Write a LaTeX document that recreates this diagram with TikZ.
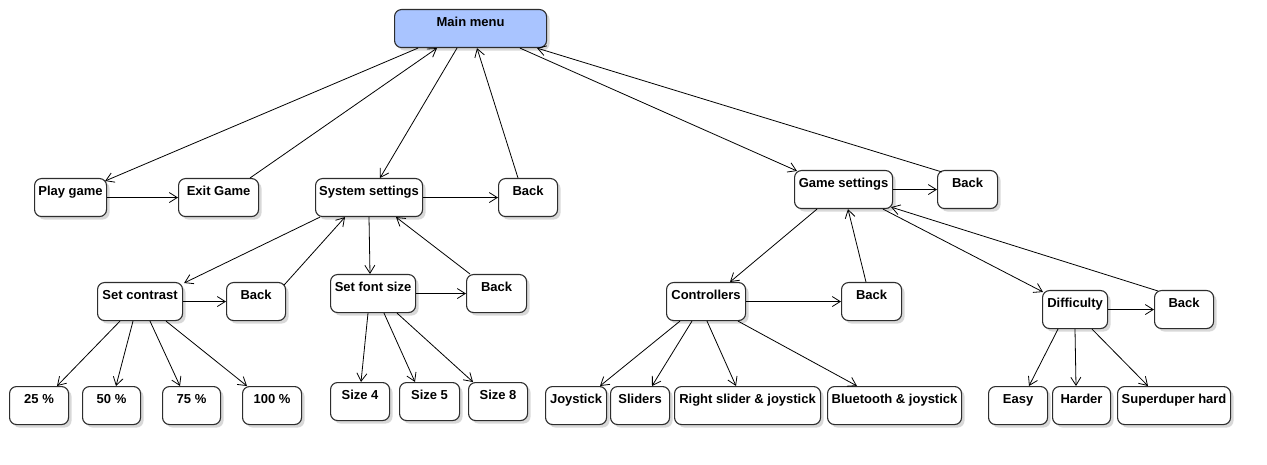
\documentclass[tikz,border=0pt]{standalone}
\usepackage{fontspec}
\setmainfont{Liberation Sans}
\usetikzlibrary{arrows.meta,shadows}
\definecolor{mainblue}{RGB}{169,196,255}
\definecolor{boxline}{RGB}{45,45,45}
\begin{document}
\begin{tikzpicture}[x=1pt,y=-1pt,
  box/.style={draw=boxline, line width=1.1pt, rounded corners=7pt, fill=white,
    minimum height=38pt, inner xsep=0pt, inner ysep=8pt, text height=9pt, text depth=13pt,
    font=\bfseries\fontsize{13}{15}\selectfont, anchor=north west,
    drop shadow={shadow xshift=3pt, shadow yshift=-3pt, fill=black!30, opacity=0.5}},
  arr/.style={draw=black, line width=0.8pt, -{Straight Barb[length=8pt,width=10pt,line width=0.8pt]}}]
\useasboundingbox (0,0) rectangle (1267,465);
% top level
\node[box, fill=mainblue, minimum width=152pt] (main) at (394,9) {Main menu};
\node[box, minimum width=72pt] (play) at (34,178) {Play game};
\node[box, minimum width=80pt] (exit) at (178,178) {Exit Game};
\node[box, minimum width=107pt] (sys) at (315,178) {System settings};
\node[box, minimum width=59pt] (back1) at (498,178) {Back};
\node[box, minimum width=98pt] (game) at (794,170) {Game settings};
\node[box, minimum width=60pt] (back2) at (937,170) {Back};
% second level
\node[box, minimum width=85pt] (contrast) at (97,282) {Set contrast};
\node[box, minimum width=59pt] (back3) at (226,282) {Back};
\node[box, minimum width=85pt] (font) at (330,274) {Set font size};
\node[box, minimum width=60pt] (back4) at (466,274) {Back};
\node[box, minimum width=79pt] (ctrl) at (666,282) {Controllers};
\node[box, minimum width=60pt] (back5) at (841,282) {Back};
\node[box, minimum width=65pt] (diff) at (1042,290) {Difficulty};
\node[box, minimum width=59pt] (back6) at (1154,290) {Back};
% leaves
\node[box, minimum width=59pt] (p25) at (9,386) {25 \%};
\node[box, minimum width=58pt] (p50) at (82,386) {50 \%};
\node[box, minimum width=58pt] (p75) at (162,386) {75 \%};
\node[box, minimum width=59pt] (p100) at (242,386) {100 \%};
\node[box, minimum width=59pt] (s4) at (330,382) {Size 4};
\node[box, minimum width=60pt] (s5) at (399,382) {Size 5};
\node[box, minimum width=59pt] (s8) at (468,382) {Size 8};
\node[box, minimum width=61pt] (joy) at (545,386) {Joystick};
\node[box, minimum width=59pt] (sli) at (610,386) {Sliders};
\node[box, minimum width=146pt] (rsj) at (674,386) {Right slider \& joystick};
\node[box, minimum width=134pt] (bt) at (827,386) {Bluetooth \& joystick};
\node[box, minimum width=59pt] (easy) at (988,386) {Easy};
\node[box, minimum width=58pt] (harder) at (1052,386) {Harder};
\node[box, minimum width=113pt] (super) at (1117,386) {Superduper hard};
% connectors top level
\draw[arr] ([xshift=24pt]main.south west) -- ([xshift=-2pt,yshift=-3pt]play.north east);
\draw[arr] ([xshift=72pt]exit.north west) -- ([xshift=43pt]main.south west);
\draw[arr] ([xshift=63pt]main.south west) -- ([xshift=65pt]sys.north west);
\draw[arr] ([xshift=20pt]back1.north west) -- ([xshift=83pt]main.south west);
\draw[arr] ([xshift=126pt]main.south west) -- ([xshift=3pt,yshift=-1pt]game.north west);
\draw[arr] ([xshift=5pt,yshift=-2pt]back2.north west) -- ([xshift=143pt]main.south west);
\draw[arr] (play.east) -- (exit.west);
\draw[arr] (sys.east) -- (back1.west);
\draw[arr] (game.east) -- (back2.west);
% system settings
\draw[arr] ([xshift=5pt]sys.south west) -- ([xshift=1pt,yshift=-1pt]contrast.north east);
\draw[arr] ([xshift=-2pt,yshift=-3pt]back3.north east) -- ([xshift=30pt]sys.south west);
\draw[arr] ([xshift=54pt]sys.south west) -- ([xshift=40pt]font.north west);
\draw[arr] ([xshift=4pt]back4.north west) -- ([xshift=81pt]sys.south west);
\draw[arr] (contrast.east) -- (back3.west);
\draw[arr] (font.east) -- (back4.west);
\draw[arr] ([xshift=23pt]contrast.south west) -- ([xshift=48pt]p25.north west);
\draw[arr] ([xshift=36pt]contrast.south west) -- ([xshift=34pt]p50.north west);
\draw[arr] ([xshift=53pt]contrast.south west) -- ([xshift=18pt]p75.north west);
\draw[arr] ([xshift=69pt]contrast.south west) -- ([xshift=5pt]p100.north west);
\draw[arr] ([xshift=38pt]font.south west) -- ([xshift=31pt]s4.north west);
\draw[arr] ([xshift=54pt]font.south west) -- ([xshift=16pt]s5.north west);
\draw[arr] ([xshift=67pt]font.south west) -- ([xshift=5pt]s8.north west);
% game settings
\draw[arr] ([xshift=23pt]game.south west) -- ([xshift=64pt]ctrl.north west);
\draw[arr] ([xshift=25pt]back5.north west) -- ([xshift=54pt]game.south west);
\draw[arr] ([xshift=89pt]game.south west) -- ([xshift=1pt,yshift=-2pt]diff.north west);
\draw[arr] ([xshift=4pt,yshift=-1pt]back6.north west) -- ([xshift=-2pt,yshift=2pt]game.south east);
\draw[arr] (ctrl.east) -- (back5.west);
\draw[arr] (diff.east) -- (back6.west);
\draw[arr] ([xshift=14pt]ctrl.south west) -- ([xshift=55pt]joy.north west);
\draw[arr] ([xshift=26pt]ctrl.south west) -- ([xshift=42pt]sli.north west);
\draw[arr] ([xshift=41pt]ctrl.south west) -- ([xshift=62pt]rsj.north west);
\draw[arr] ([xshift=72pt]ctrl.south west) -- ([xshift=30pt]bt.north west);
\draw[arr] ([xshift=16pt]diff.south west) -- ([xshift=41pt]easy.north west);
\draw[arr] ([xshift=33pt]diff.south west) -- ([xshift=24pt]harder.north west);
\draw[arr] ([xshift=50pt]diff.south west) -- ([xshift=31pt]super.north west);
\end{tikzpicture}
\end{document}
